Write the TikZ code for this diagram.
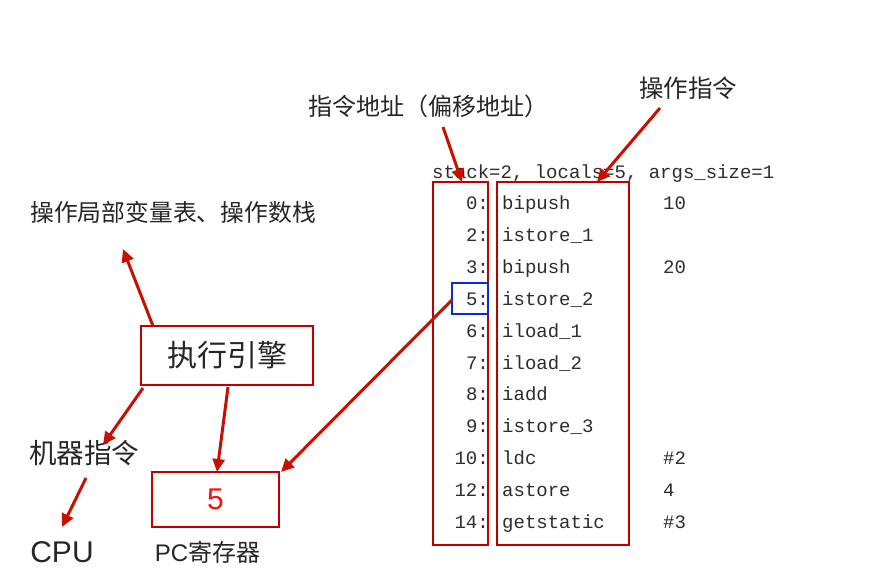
\documentclass[tikz,border=0pt]{standalone}
\usepackage{fontspec}
\setmainfont{Liberation Sans}
\newfontfamily\cjk{Noto Sans CJK SC}
\newfontfamily\monof{Liberation Mono}
\usetikzlibrary{arrows.meta}
\definecolor{dred}{RGB}{192,0,0}
\definecolor{arrred}{RGB}{200,16,0}
\definecolor{bbox}{RGB}{10,40,220}
\definecolor{txt}{RGB}{38,38,38}
\definecolor{code}{RGB}{45,45,45}
\tikzset{
  redbox/.style={draw=dred,line width=2.5pt,inner sep=0pt},
  redarrow/.style={draw=arrred,line width=3pt,-{Triangle[length=13pt,width=12pt]}},
  lab/.style={text=txt,inner sep=0pt,font=\cjk\fontsize{24}{24}\selectfont},
  codet/.style={text=code,inner sep=0pt,font=\monof\fontsize{19}{19}\selectfont},
}
\begin{document}
\begin{tikzpicture}[x=1pt,y=-1pt]
\useasboundingbox (0,0) rectangle (884,579);
\fill[white] (0,0) rectangle (884,579);

% labels
\node[lab] (addr) at (428,106) {指令地址（偏移地址）};
\node[lab,font=\cjk\fontsize{24.5}{24.5}\selectfont] (opins) at (688,88) {操作指令};
\node[lab,font=\cjk\fontsize{23.8}{23.8}\selectfont] (opstack) at (173,212) {操作局部变量表、操作数栈};
\node[lab,font=\cjk\fontsize{27.5}{27.5}\selectfont] (mach) at (84,453) {机器指令};
\node[lab,font=\fontsize{30}{30}\selectfont] (cpu) at (62,552) {CPU};
\node[lab,font=\fontsize{24}{24}\selectfont] (pclab) at (207.5,552) {PC{\cjk 寄存器}};

% engine and PC boxes
\node[redbox,minimum width=172pt,minimum height=59pt,text=txt,font=\cjk\fontsize{30}{30}\selectfont] (engine) at (227,355.5) {执行引擎};
\node[redbox,minimum width=127pt,minimum height=55pt,text={rgb,255:red,240;green,20;blue,10},font=\fontsize{30}{30}\selectfont] (pc) at (215.5,499.5) {5};

% code header
\node[codet,anchor=base west] (hdr) at (432,178) {stack=2, locals=5, args\_size=1};

% code boxes
\node[redbox,minimum width=55pt,minimum height=363pt] (lbox) at (460.5,363.5) {};
\node[redbox,minimum width=132pt,minimum height=363pt] (rbox) at (563,363.5) {};
\node[draw=bbox,line width=2pt,minimum width=36pt,minimum height=31pt,inner sep=0pt] (blue) at (470,298.5) {};

% code rows
\foreach \n/\ins/\arg [count=\i from 0] in {0/bipush/10,2/istore\_1/,3/bipush/20,5/istore\_2/,6/iload\_1/,7/iload\_2/,8/iadd/,9/istore\_3/,10/ldc/\#2,12/astore/4,14/getstatic/\#3}{
  \pgfmathsetmacro{\yy}{203+31.9*\i+6.5}
  \node[codet,anchor=base east] (n\i) at (489,\yy) {\n:};
  \node[codet,anchor=base west] (c\i) at (502,\yy) {\ins};
  \node[codet,anchor=base west] (g\i) at (663,\yy) {\arg};
}

% arrow end points
\coordinate (a1s) at (443,127); \coordinate (a1e) at (462,182);
\coordinate (a2s) at (660,108); \coordinate (a2e) at (597,182);
\coordinate (a3s) at (153,326); \coordinate (a3e) at (123,249);
\coordinate (a4s) at (143,388); \coordinate (a4e) at (103,445);
\coordinate (a5s) at (86,478);  \coordinate (a5e) at (62,527);
\coordinate (a6s) at (228,387); \coordinate (a6e) at (217,472);
\coordinate (a7s) at (452,300); \coordinate (a7e) at (281,472);

\draw[redarrow] (a1s) -- (a1e);
\draw[redarrow] (a2s) -- (a2e);
\draw[redarrow] (a3s) -- (a3e);
\draw[redarrow] (a4s) -- (a4e);
\draw[redarrow] (a5s) -- (a5e);
\draw[redarrow] (a6s) -- (a6e);
\draw[redarrow] (a7s) -- (a7e);
\end{tikzpicture}
\end{document}
